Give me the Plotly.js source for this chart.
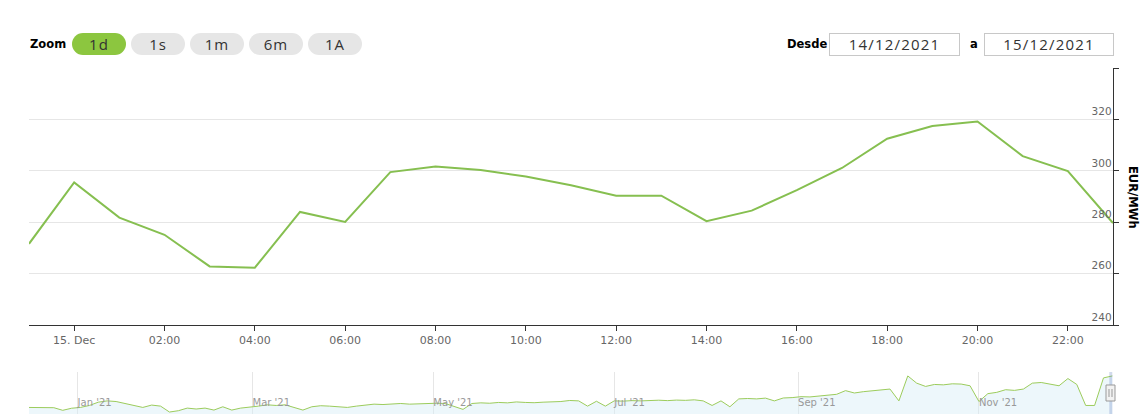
<!DOCTYPE html>
<html>
<head>
<meta charset="utf-8">
<script src="https://cdn.plot.ly/plotly-3.0.1.min.js"></script>
<style>
  html, body { margin: 0; padding: 0; background: #fff; }
  #wrap { position: relative; width: 1141px; height: 416px; overflow: hidden; }
  #chart { position: absolute; left: 0; top: 0; width: 1141px; height: 416px; }
  .lbl { position: absolute; font-family: "DejaVu Sans", sans-serif; font-weight: bold; font-size: 11.5px; color: #000; line-height: 22px; top: 33px; }
  .btn { position: absolute; top: 33px; width: 54px; height: 22px; border-radius: 11px; background: #e6e6e6; color: #333;
         font-family: "Open Sans", sans-serif; font-size: 15px; line-height: 22px; text-align: center; letter-spacing: 1px; }
  .btn.sel { background: #8cc63f; }
  .inp { position: absolute; top: 33px; height: 21px; border: 1px solid #c8c8c8; box-sizing: content-box; color: #333;
         font-family: "Open Sans", sans-serif; font-size: 15px; line-height: 21px; text-align: center; letter-spacing: 1.2px; }
</style>
</head>
<body>
<div id="wrap">
  <div id="chart"></div>
  <div id="ui"></div>
</div>
<script>
// ---- main series: hourly price (EUR/MWh) ----
const hours = ['2021-12-14 23:00','2021-12-15 00:00','2021-12-15 01:00','2021-12-15 02:00','2021-12-15 03:00',
  '2021-12-15 04:00','2021-12-15 05:00','2021-12-15 06:00','2021-12-15 07:00','2021-12-15 08:00','2021-12-15 09:00',
  '2021-12-15 10:00','2021-12-15 11:00','2021-12-15 12:00','2021-12-15 13:00','2021-12-15 14:00','2021-12-15 15:00',
  '2021-12-15 16:00','2021-12-15 17:00','2021-12-15 18:00','2021-12-15 19:00','2021-12-15 20:00','2021-12-15 21:00',
  '2021-12-15 22:00','2021-12-15 23:00'];
const prices = [271.6, 295.5, 281.8, 275.1, 262.8, 262.3, 284.0, 280.1, 299.5, 301.7, 300.3, 297.8, 294.4,
  290.3, 290.3, 280.4, 284.5, 292.5, 301.1, 312.5, 317.4, 319.2, 305.7, 299.9, 279.7];

const xTickVals = ['2021-12-15 00:00','2021-12-15 02:00','2021-12-15 04:00','2021-12-15 06:00','2021-12-15 08:00',
  '2021-12-15 10:00','2021-12-15 12:00','2021-12-15 14:00','2021-12-15 16:00','2021-12-15 18:00','2021-12-15 20:00','2021-12-15 22:00'];
const xTickText = ['15. Dec','02:00','04:00','06:00','08:00','10:00','12:00','14:00','16:00','18:00','20:00','22:00'];
const yTickVals = [240, 260, 280, 300, 320, 340];
const yTickText = ['240', '260', '280', '300', '320', ''];

// ---- navigator series: one value every 3 days from 15 Dec 2020 ----
const navStart = '2020-12-15';
const navStepDays = 3;
const navValues = [50, 50, 50, 48, 28, 44, 50, 65, 90, 100, 95, 80, 60, 50, 68, 60, 15, 25, 45, 38,
  45, 30, 55, 30, 45, 50, 60, 70, 65, 70, 50, 30, 55, 63, 60, 55, 50, 60, 70, 75,
  72, 78, 80, 75, 78, 80, 82, 80, 60, 35, 80, 85, 82, 88, 85, 92, 88, 86, 90, 92,
  95, 103, 100, 60, 97, 60, 100, 98, 102, 100, 103, 105, 102, 106, 104, 108, 100, 65, 100, 55,
  115, 118, 115, 121, 100, 122, 125, 132, 130, 135, 140, 150, 178, 160, 170, 175, 185, 190, 100, 290,
  235, 210, 225, 222, 230, 228, 215, 95, 155, 165, 185, 180, 190, 235, 240, 230, 215, 270, 225, 65,
  65, 275, 290];
const navTickVals = ['2021-01-01','2021-03-01','2021-05-01','2021-07-01','2021-09-01','2021-11-01'];
const navTickText = ["Jan '21","Mar '21","May '21","Jul '21","Sep '21","Nov '21"];

const buttons = ['1d', '1s', '1m', '6m', '1A'];
const dateFrom = '14/12/2021';
const dateTo = '15/12/2021';

function addDays(s, d) {
  const t = new Date(s + 'T00:00:00Z');
  t.setUTCDate(t.getUTCDate() + d);
  return t.toISOString().slice(0, 10);
}
const navDates = navValues.map((_, i) => addDays(navStart, i * navStepDays));

const font = 'DejaVu Sans, sans-serif';

const traces = [
  { type: 'scatter', mode: 'lines', x: hours, y: prices, xaxis: 'x', yaxis: 'y',
    line: { color: '#86bf50', width: 2 }, hoverinfo: 'skip' },
  { type: 'scatter', mode: 'lines', x: navDates, y: navValues, xaxis: 'x2', yaxis: 'y2',
    line: { color: '#9ccc5c', width: 1 }, fill: 'tozeroy', fillcolor: 'rgba(215,238,246,0.45)', hoverinfo: 'skip' }
];

const layout = {
  width: 1141, height: 416,
  margin: { l: 29, r: 28, t: 68, b: 2 },
  paper_bgcolor: '#fff', plot_bgcolor: 'rgba(0,0,0,0)',
  showlegend: false,
  font: { family: font, color: '#666', size: 11 },
  xaxis: {
    type: 'date', anchor: 'y', domain: [0, 1],
    range: [hours[0], hours[hours.length - 1]],
    tickvals: xTickVals, ticktext: xTickText,
    ticks: 'outside', ticklen: 5, tickcolor: '#333', tickwidth: 1,
    showline: true, linecolor: '#333', linewidth: 1, showgrid: false, zeroline: false,
    tickfont: { family: font, size: 11, color: '#666' }, fixedrange: true
  },
  yaxis: {
    anchor: 'x', side: 'right', domain: [0.2572, 1], range: [240, 340],
    tickvals: yTickVals, ticktext: yTickText,
    ticks: 'outside', ticklen: 5, tickcolor: '#333', tickwidth: 1,
    ticklabelposition: 'inside top',
    showline: true, linecolor: '#333', linewidth: 1,
    showgrid: true, gridcolor: '#e6e6e6', gridwidth: 1, zeroline: false,
    tickfont: { family: font, size: 10.5, color: '#666' }, fixedrange: true
  },
  xaxis2: {
    type: 'date', anchor: 'y2', domain: [0, 1],
    range: ['2020-12-15 15:00', '2021-12-16 05:00'],
    tickvals: navTickVals, ticktext: navTickText,
    ticks: '', ticklabelposition: 'inside right',
    showline: false, showgrid: true, gridcolor: '#e6e6e6', gridwidth: 1, zeroline: false,
    tickfont: { family: font, size: 10, color: '#999' }, fixedrange: true
  },
  yaxis2: {
    anchor: 'x2', domain: [0, 0.1214], range: [0, 320],
    showgrid: false, zeroline: false, showticklabels: false, showline: false, ticks: '', fixedrange: true
  },
  shapes: [
    { type: 'rect', xref: 'x2', yref: 'paper', x0: hours[0], x1: hours[hours.length - 1], y0: 0, y1: 0.1214,
      fillcolor: 'rgba(102,133,194,0.3)', line: { width: 0 }, layer: 'above' },
    { type: 'rect', xref: 'paper', yref: 'paper', x0: (1106 - 29) / 1084, x1: (1115 - 29) / 1084,
      y0: (414 - 401) / 346, y1: (414 - 385) / 346, fillcolor: '#f2f2f2', line: { color: '#999', width: 1 }, layer: 'above' },
    { type: 'line', xref: 'paper', yref: 'paper', x0: (1109 - 29) / 1084, x1: (1109 - 29) / 1084,
      y0: (414 - 397) / 346, y1: (414 - 389) / 346, line: { color: '#999', width: 1 }, layer: 'above' },
    { type: 'line', xref: 'paper', yref: 'paper', x0: (1112 - 29) / 1084, x1: (1112 - 29) / 1084,
      y0: (414 - 397) / 346, y1: (414 - 389) / 346, line: { color: '#999', width: 1 }, layer: 'above' }
  ],
  annotations: [
    { text: 'EUR/MWh', xref: 'paper', yref: 'paper', x: (1133 - 29) / 1084, y: (414 - 197) / 346,
      xanchor: 'center', yanchor: 'middle', textangle: 90, showarrow: false,
      font: { family: font, size: 11.5, color: '#000', weight: 'bold' } }
  ]
};

Plotly.newPlot('chart', traces, layout, { displayModeBar: false, staticPlot: true });

// ---- range selector and date inputs (HTML) ----
const ui = document.getElementById('ui');
function el(cls, text, left, extra) {
  const d = document.createElement('div');
  d.className = cls; d.textContent = text; d.style.left = left + 'px';
  if (extra) Object.assign(d.style, extra);
  ui.appendChild(d);
  return d;
}
el('lbl', 'Zoom', 30);
buttons.forEach((b, i) => el('btn' + (i === 0 ? ' sel' : ''), b, 72 + i * 59));
el('lbl', 'Desde', 787);
el('inp', dateFrom, 829, { width: '129px' });
el('lbl', 'a', 970);
el('inp', dateTo, 984, { width: '128px' });
</script>
</body>
</html>
